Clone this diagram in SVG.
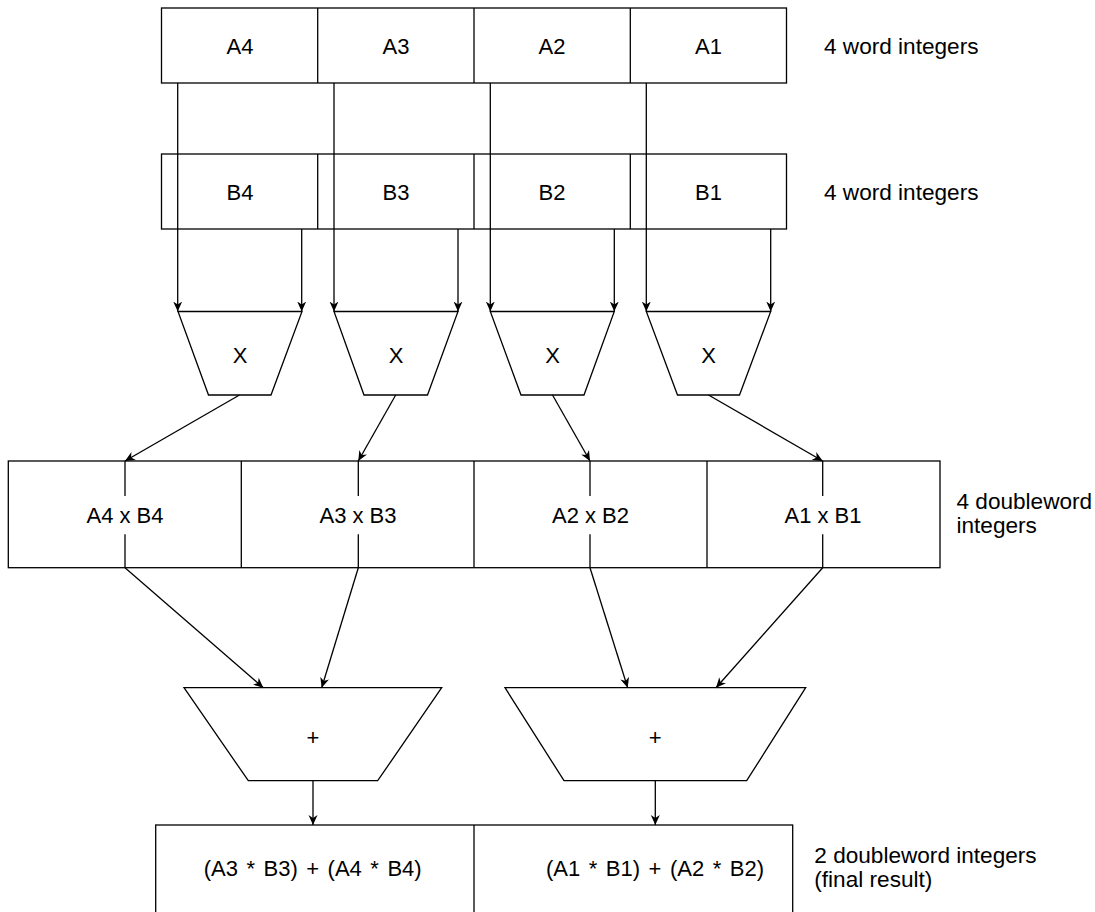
<svg xmlns="http://www.w3.org/2000/svg" width="1095" height="912" viewBox="0 0 1095 912">
<defs>
<style>
.box{fill:#fff;stroke:#000;stroke-width:1.3}
.ln{fill:none;stroke:#000;stroke-width:1.3}
.t{font-family:"Liberation Sans",Arial,sans-serif;font-size:22px;fill:#000;text-anchor:middle}
.w{word-spacing:2.4px}
.s{font-family:"Liberation Sans",Arial,sans-serif;font-size:22.6px;fill:#000}
</style>
<marker id="arr" viewBox="0 0 10 10" refX="10" refY="5" markerWidth="10" markerHeight="10" markerUnits="userSpaceOnUse" orient="auto">
<path d="M0,0.5 L10,5 L0,9.5 L3,5 z" fill="#000"/>
</marker>
</defs>
<rect width="1095" height="912" fill="#fff"/>

<g id="rowA">
<rect class="box" x="161.5" y="8" width="625" height="75"/>
<line class="ln" x1="317.7" y1="8" x2="317.7" y2="83"/>
<line class="ln" x1="474" y1="8" x2="474" y2="83"/>
<line class="ln" x1="630.3" y1="8" x2="630.3" y2="83"/>
<text class="t" x="240" y="53.5">A4</text>
<text class="t" x="396" y="53.5">A3</text>
<text class="t" x="552" y="53.5">A2</text>
<text class="t" x="708.5" y="53.5">A1</text>
</g>

<g id="rowB">
<rect class="box" x="161.5" y="154" width="625" height="75"/>
<line class="ln" x1="317.7" y1="154" x2="317.7" y2="229"/>
<line class="ln" x1="474" y1="154" x2="474" y2="229"/>
<line class="ln" x1="630.3" y1="154" x2="630.3" y2="229"/>
<text class="t" x="240" y="200">B4</text>
<text class="t" x="396" y="200">B3</text>
<text class="t" x="552" y="200">B2</text>
<text class="t" x="708.5" y="200">B1</text>
</g>

<g id="label-a"><text class="s" x="824" y="53.5">4 word integers</text></g>
<g id="label-b"><text class="s" x="824" y="200">4 word integers</text></g>

<g id="mul1"><polygon class="box" points="178,311.5 302,311.5 271,395 208.5,395"/><text class="t" x="240" y="363">X</text></g>
<g id="mul2"><polygon class="box" points="334,311.5 458,311.5 427.5,395 364,395"/><text class="t" x="396" y="363">X</text></g>
<g id="mul3"><polygon class="box" points="490.3,311.5 614.3,311.5 584,395 521,395"/><text class="t" x="552.5" y="363">X</text></g>
<g id="mul4"><polygon class="box" points="646.3,311.5 770.7,311.5 739.5,395 677.5,395"/><text class="t" x="708.5" y="363">X</text></g>

<g id="rowP">
<rect class="box" x="8.3" y="461" width="931.7" height="106.7"/>
<line class="ln" x1="241.3" y1="461" x2="241.3" y2="567.7"/>
<line class="ln" x1="474" y1="461" x2="474" y2="567.7"/>
<line class="ln" x1="707" y1="461" x2="707" y2="567.7"/>
<text class="t" x="125" y="522.7">A4 x B4</text>
<text class="t" x="358" y="522.7">A3 x B3</text>
<text class="t" x="590.5" y="522.7">A2 x B2</text>
<text class="t" x="823" y="522.7">A1 x B1</text>
</g>
<g id="label-p"><text class="s" x="956.5" y="508.5">4 doubleword</text><text class="s" x="956.5" y="532.5">integers</text></g>

<g id="add1"><polygon class="box" points="184,687.7 441.7,687.7 377.7,780.7 248.3,780.7"/><text class="t" x="313" y="744.5">+</text></g>
<g id="add2"><polygon class="box" points="505,687.7 805.7,687.7 746.7,780.7 564,780.7"/><text class="t" x="655.3" y="744.5">+</text></g>

<g id="rowR">
<rect class="box" x="155.7" y="825" width="637" height="95"/>
<line class="ln" x1="474" y1="825" x2="474" y2="920"/>
<text class="t w" x="312.7" y="876">(A3 * B3) + (A4 * B4)</text>
<text class="t w" x="655" y="876">(A1 * B1) + (A2 * B2)</text>
</g>
<g id="label-r"><text class="s" x="814.3" y="862.7">2 doubleword integers</text><text class="s" x="814.3" y="886.7">(final result)</text></g>

<g id="connectors">
<line class="ln" x1="177.7" y1="83" x2="177.7" y2="311.5" marker-end="url(#arr)"/>
<line class="ln" x1="334" y1="83" x2="334" y2="311.5" marker-end="url(#arr)"/>
<line class="ln" x1="490.3" y1="83" x2="490.3" y2="311.5" marker-end="url(#arr)"/>
<line class="ln" x1="646.3" y1="83" x2="646.3" y2="311.5" marker-end="url(#arr)"/>
<line class="ln" x1="301.7" y1="229" x2="301.7" y2="311.5" marker-end="url(#arr)"/>
<line class="ln" x1="458" y1="229" x2="458" y2="311.5" marker-end="url(#arr)"/>
<line class="ln" x1="614.3" y1="229" x2="614.3" y2="311.5" marker-end="url(#arr)"/>
<line class="ln" x1="770.7" y1="229" x2="770.7" y2="311.5" marker-end="url(#arr)"/>

<line class="ln" x1="239.5" y1="395" x2="125" y2="461" marker-end="url(#arr)"/>
<line class="ln" x1="395.7" y1="395" x2="358.3" y2="461" marker-end="url(#arr)"/>
<line class="ln" x1="552.5" y1="395" x2="590" y2="461" marker-end="url(#arr)"/>
<line class="ln" x1="708.5" y1="395" x2="822.7" y2="461" marker-end="url(#arr)"/>

<line class="ln" x1="125" y1="461" x2="125" y2="496"/>
<line class="ln" x1="125" y1="534.3" x2="125" y2="567.7"/>
<line class="ln" x1="358.3" y1="461" x2="358.3" y2="496"/>
<line class="ln" x1="358.3" y1="534.3" x2="358.3" y2="567.7"/>
<line class="ln" x1="590" y1="461" x2="590" y2="496"/>
<line class="ln" x1="590" y1="534.3" x2="590" y2="567.7"/>
<line class="ln" x1="822.7" y1="461" x2="822.7" y2="496"/>
<line class="ln" x1="822.7" y1="534.3" x2="822.7" y2="567.7"/>

<line class="ln" x1="125" y1="567.7" x2="263.3" y2="687.7" marker-end="url(#arr)"/>
<line class="ln" x1="358.3" y1="567.7" x2="321.7" y2="687.7" marker-end="url(#arr)"/>
<line class="ln" x1="590" y1="567.7" x2="627.7" y2="687.7" marker-end="url(#arr)"/>
<line class="ln" x1="822.7" y1="567.7" x2="716" y2="687.7" marker-end="url(#arr)"/>

<line class="ln" x1="313" y1="780.7" x2="313" y2="825" marker-end="url(#arr)"/>
<line class="ln" x1="655.3" y1="780.7" x2="655.3" y2="825" marker-end="url(#arr)"/>
</g>
</svg>
